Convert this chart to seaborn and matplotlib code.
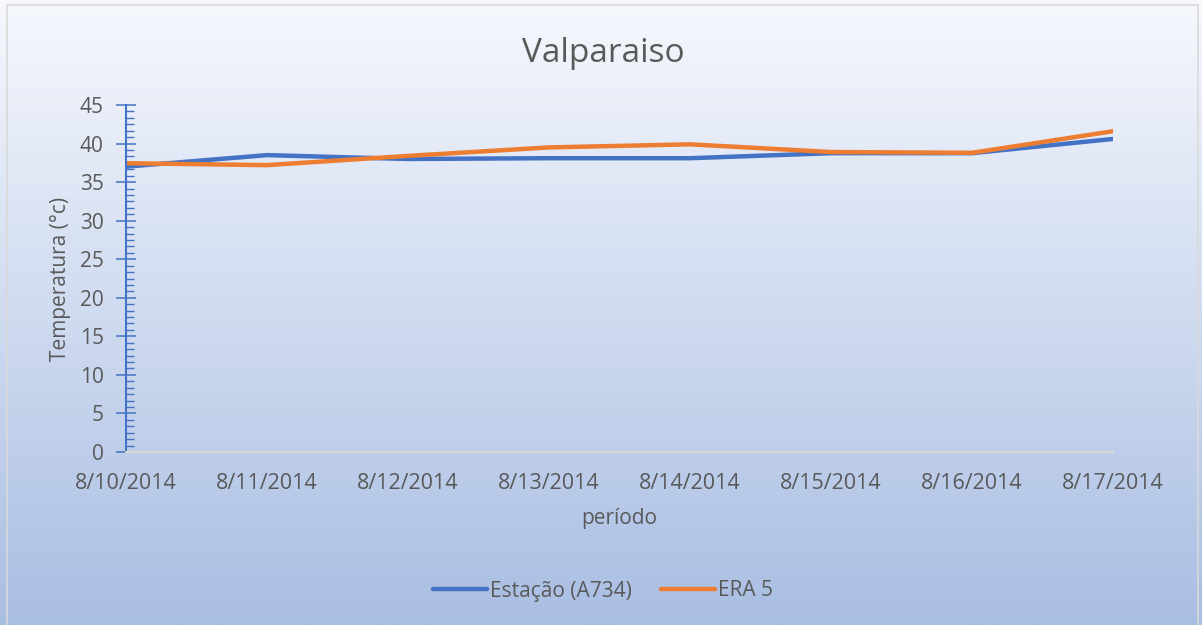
import numpy as np
import pandas as pd
import matplotlib
matplotlib.use("Agg")
import matplotlib.pyplot as plt
import seaborn as sns
from matplotlib.ticker import MultipleLocator, FixedLocator
from matplotlib.lines import Line2D
from matplotlib.patches import Rectangle

dates = ["8/10/2014", "8/11/2014", "8/12/2014", "8/13/2014",
         "8/14/2014", "8/15/2014", "8/16/2014", "8/17/2014"]
estacao = [37.0, 38.5, 38.0, 38.1, 38.1, 38.75, 38.75, 40.6]
era5 = [37.45, 37.2, 38.4, 39.5, 39.9, 38.9, 38.8, 41.6]
series_names = ["Estação (A734)", "ERA 5"]
colors = ["#4472C4", "#ED7D31"]

sns.set_style("white")
plt.rcParams["font.family"] = ["Open Sans", "DejaVu Sans"]

df = pd.DataFrame({
    "idx": list(range(len(dates))) * 2,
    "valor": estacao + era5,
    "serie": [series_names[0]] * len(dates) + [series_names[1]] * len(dates),
})

fig = plt.figure(figsize=(12.02, 6.25), dpi=100)

# gradient background
bg = fig.add_axes([0, 0, 1, 1], zorder=-10)
grad = np.linspace(0, 1, 256).reshape(-1, 1)
top = np.array([0xF6, 0xF8, 0xFD]) / 255
bot = np.array([0xA9, 0xBE, 0xE3]) / 255
img = top + (bot - top) * grad[:, :, None] * np.ones((1, 2, 1))
bg.imshow(img, aspect="auto", extent=[0, 1, 0, 1], origin="upper")
bg.set_xlim(0, 1); bg.set_ylim(0, 1)
bg.axis("off")
bg.add_patch(Rectangle((7 / 1202, -0.01), (1198 - 7) / 1202, 1 - 5 / 625 + 0.01,
                       fill=False, edgecolor="#D9D9D9", linewidth=1.2,
                       transform=bg.transAxes))

ax = fig.add_axes([126 / 1202, (625 - 452) / 625, (1113 - 126) / 1202, 347 / 625])
ax.patch.set_alpha(0)

sns.lineplot(data=df, x="idx", y="valor", hue="serie", palette=colors,
             linewidth=3.2, ax=ax, legend=False, solid_capstyle="round")

ax.set_xlim(0, len(dates) - 1)
ax.set_ylim(0, 45)
ax.yaxis.set_major_locator(MultipleLocator(5))
ax.yaxis.set_minor_locator(MultipleLocator(5 / 6))
ax.xaxis.set_major_locator(FixedLocator(range(len(dates))))
ax.set_xticklabels(dates)

txt = "#595959"
ax.tick_params(axis="y", which="major", direction="inout", length=14, width=1.1,
               color="#4472C4", labelsize=15, labelcolor=txt, pad=9, left=True)
ax.tick_params(axis="y", which="minor", direction="in", length=6, width=1.0,
               color="#4472C4", left=True)
ax.tick_params(axis="x", which="both", length=0, labelsize=15.5, labelcolor=txt, pad=15)

for s in ["top", "right"]:
    ax.spines[s].set_visible(False)
ax.spines["left"].set_color("#4472C4")
ax.spines["left"].set_linewidth(1.5)
ax.spines["bottom"].set_color("#D9D9D9")
ax.spines["bottom"].set_linewidth(1.5)

ax.set_xlabel("período", fontsize=15, color=txt, labelpad=10)
ax.set_ylabel("Temperatura (°c)", fontsize=15, color=txt, labelpad=6)

fig.text(603 / 1202, 1 - 53 / 625, "Valparaiso", fontsize=24, color=txt,
         ha="center", va="center")

handles = [Line2D([0], [0], color=c, lw=3.2, solid_capstyle="round") for c in colors]
fig.legend(handles, series_names, loc="center", bbox_to_anchor=(603 / 1202, 1 - 591 / 625),
           ncol=2, frameon=False, fontsize=15, labelcolor=txt, handlelength=2.6,
           handletextpad=0.15, columnspacing=1.4)

fig.savefig("out.png", dpi=100)
